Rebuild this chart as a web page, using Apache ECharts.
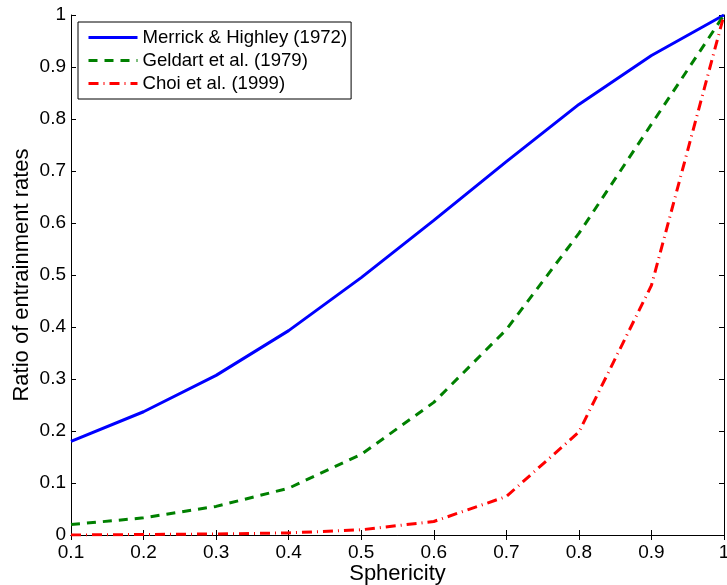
<!DOCTYPE html>
<html><head><meta charset="utf-8">
<script src="https://cdn.jsdelivr.net/npm/echarts@6/dist/echarts.min.js"></script>
<style>html,body{margin:0;padding:0;background:#fff}#c{width:727px;height:585px}</style>
</head><body><div id="c"></div>
<script>
const sphericity = [0.1,0.2,0.3,0.4,0.5,0.6,0.7,0.8,0.9,1.0];
const merrick = [0.18,0.237,0.307,0.393,0.495,0.605,0.718,0.828,0.922,1.0];
const geldart = [0.02,0.033,0.055,0.09,0.155,0.255,0.395,0.58,0.79,1.0];
const choi = [0.0,0.001,0.002,0.004,0.01,0.026,0.074,0.198,0.48,1.0];
const names = ['Merrick & Highley (1972)','Geldart et al. (1979)','Choi et al. (1999)'];
const xLabel = 'Sphericity';
const yLabel = 'Ratio of entrainment rates';

const pair = a => sphericity.map((x,i)=>[x,a[i]]);
const font = 'Liberation Sans, Arial, sans-serif';
const fmt = v => String(+v.toFixed(1));
const chart = echarts.init(document.getElementById('c'));
const axisLine = {show:true,lineStyle:{color:'#000',width:1}};
const tick = {show:true,inside:true,length:5,lineStyle:{color:'#000'}};
chart.setOption({
  animation:false,
  backgroundColor:'#fff',
  grid:{left:71,right:3,top:15,bottom:50,containLabel:false,outerBoundsMode:'none'},
  legend:{
    orient:'vertical',left:78,top:22,
    backgroundColor:'#fff',borderColor:'#000',borderWidth:1,
    padding:[6,4,6,9],itemGap:4,itemWidth:49,itemHeight:19,
    itemStyle:{color:'rgba(0,0,0,0)',borderWidth:0,opacity:0},
    lineStyle:{width:3},
    textStyle:{fontFamily:font,fontSize:18.6,color:'#000'},
    data:names
  },
  xAxis:[
    {type:'value',min:0.1,max:1,interval:0.1,axisLine,axisTick:tick,splitLine:{show:false},
     axisLabel:{color:'#000',fontFamily:font,fontSize:19,margin:8,formatter:fmt},
     name:xLabel,nameLocation:'middle',nameGap:28,nameMoveOverlap:false,
     nameTextStyle:{color:'#000',fontFamily:font,fontSize:22}},
    {type:'value',position:'top',min:0.1,max:1,interval:0.1,axisLine,axisTick:tick,axisLabel:{show:false},splitLine:{show:false}}
  ],
  yAxis:[
    {type:'value',min:0,max:1,interval:0.1,axisLine,axisTick:tick,splitLine:{show:false},
     axisLabel:{color:'#000',fontFamily:font,fontSize:19,margin:5,formatter:fmt},
     name:yLabel,nameLocation:'middle',nameGap:38,nameMoveOverlap:false,
     nameTextStyle:{color:'#000',fontFamily:font,fontSize:22}},
    {type:'value',position:'right',min:0,max:1,interval:0.1,axisLine,axisTick:tick,axisLabel:{show:false},splitLine:{show:false}}
  ],
  series:[
    {name:names[0],type:'line',data:pair(merrick),showSymbol:false,symbol:'none',
     lineStyle:{color:'#0000ff',width:3,type:'solid'},itemStyle:{color:'#0000ff'}},
    {name:names[1],type:'line',data:pair(geldart),showSymbol:false,symbol:'none',
     lineStyle:{color:'#008000',width:3,type:[9,7]},itemStyle:{color:'#008000'}},
    {name:names[2],type:'line',data:pair(choi),showSymbol:false,symbol:'none',
     lineStyle:{color:'#ff0000',width:3,type:[10,5,1,5]},itemStyle:{color:'#ff0000'}}
  ]
});
</script></body></html>
